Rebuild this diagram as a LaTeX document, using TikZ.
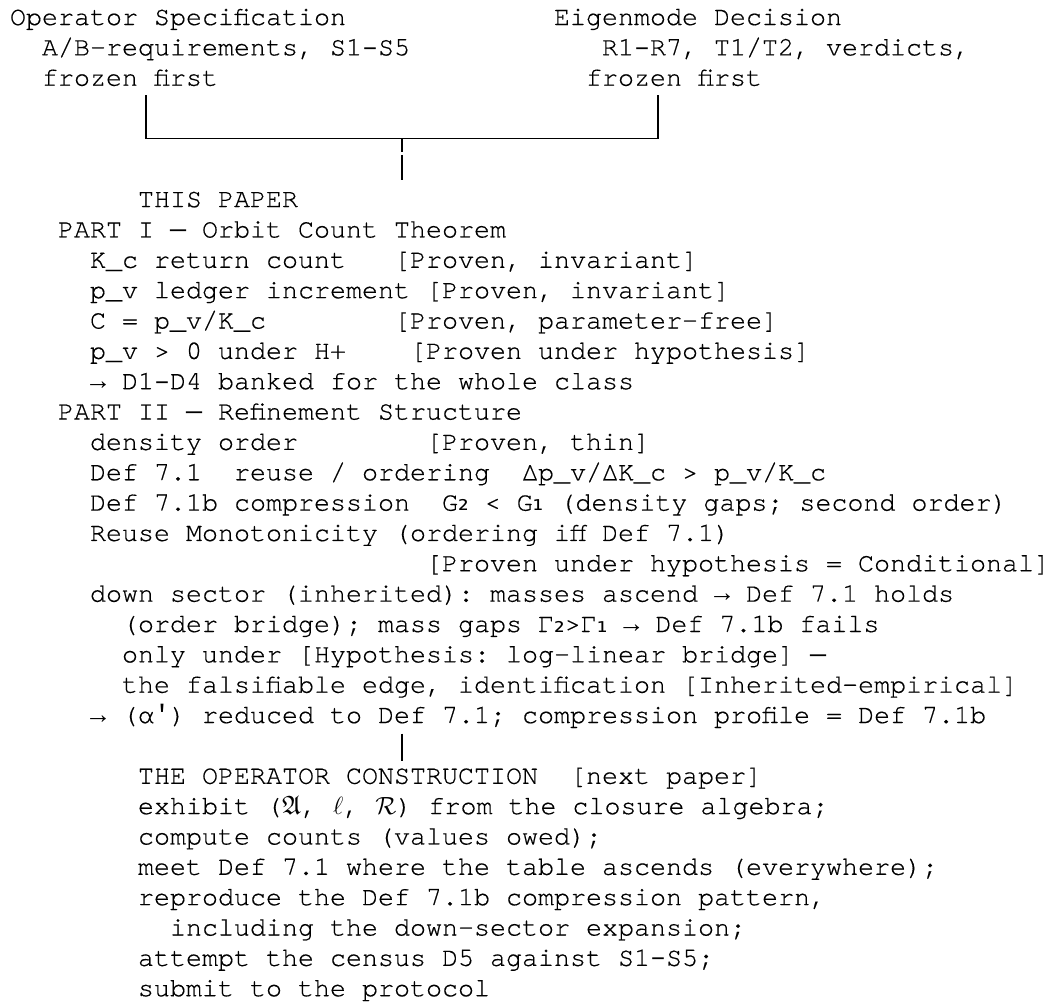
\documentclass[tikz,border=0pt]{standalone}
\usepackage{fontspec}
\usepackage{amssymb}
\newfontfamily\mono[FakeBold=0.4]{texgyrecursor-regular.otf}
\newfontfamily\lmono{Liberation Mono}
\newfontfamily\subf{DejaVu Sans}
\newcommand{\ar}{{\lmono →}}
\newcommand{\prm}{{\lmono ′}}
\newcommand{\mdash}{{\lmono —}}
\newcommand{\ndash}{{\lmono –}}
\begin{document}
\begin{tikzpicture}[x=1pt,y=-1pt,
  txt/.style={anchor=base west,inner sep=0pt,outer sep=0pt,
    font=\mono\fontsize{26.67}{30}\selectfont\frenchspacing},
  conn/.style={line width=1.6pt}]
\fill[white] (0,0) rectangle (1048,1004);
\useasboundingbox (0,0) rectangle (1048,1004);
\begin{scope}[shift={(10pt,-25pt)},x=16.0pt,y=-30.35pt]
% top blocks
\node[txt] (spec)  at (0,0)  {Operator Specification};
\node[txt] (spec2) at (2,1)  {A/B-requirements, S1\ndash{}S5};
\node[txt] (spec3) at (2,2)  {frozen first};
\node[txt] (eig)   at (34,0) {Eigenmode Decision};
\node[txt] (eig2)  at (37,1) {R1\ndash{}R7, T1/T2, verdicts,};
\node[txt] (eig3)  at (36,2) {frozen first};
% this paper
\node[txt] (tp)  at (8,6)  {THIS PAPER};
\node[txt] (p1)  at (3,7)  {PART I \mdash{} Orbit Count Theorem};
\node[txt] (p1a) at (5,8)  {K\_c return count\ \ \ [Proven, invariant]};
\node[txt] (p1b) at (5,9)  {p\_v ledger increment [Proven, invariant]};
\node[txt] (p1c) at (5,10) {C = p\_v/K\_c\ \ \ \ \ \ \ \ [Proven, parameter-free]};
\node[txt] (p1d) at (5,11) {p\_v > 0 under H+\ \ \ \ [Proven under hypothesis]};
\node[txt] (p1e) at (5,12) {\ar{} D1\ndash{}D4 banked for the whole class};
\node[txt] (p2)  at (3,13) {PART II \mdash{} Refinement Structure};
\node[txt] (p2a) at (5,14) {density order\ \ \ \ \ \ \ \ [Proven, thin]};
\node[txt] (p2b) at (5,15) {Def 7.1\ \ reuse / ordering\ \ Δp\_v/ΔK\_c > p\_v/K\_c};
\node[txt] (p2c) at (5,16) {Def 7.1b compression\ \ G{\subf ₂} < G{\subf ₁} (density gaps; second order)};
\node[txt] (p2d) at (5,17) {Reuse Monotonicity (ordering iff Def 7.1)};
\node[txt] (p2e) at (26,18) {[Proven under hypothesis = Conditional\rlap{]}};
\node[txt] (p2f) at (5,19) {down sector (inherited): masses ascend \ar{} Def 7.1 holds};
\node[txt] (p2g) at (7,20) {(order bridge); mass gaps Γ{\subf ₂}>Γ{\subf ₁} \ar{} Def 7.1b fails};
\node[txt] (p2h) at (7,21) {only under [Hypothesis: log-linear bridge] \mdash};
\node[txt] (p2i) at (7,22) {the falsifiable edge, identification [Inherited-empirical\rlap{]}};
\node[txt] (p2j) at (5,23) {\ar{} (α\prm) reduced to Def 7.1; compression profile = Def 7.1b};
% operator construction
\node[txt] (oc)  at (8,25) {THE OPERATOR CONSTRUCTION\ \ [next paper]};
\node[txt] (oc1) at (8,26) {exhibit ($\mathfrak{A}$, $\ell$, $\mathcal{R}$) from the closure algebra;};
\node[txt] (oc2) at (8,27) {compute counts (values owed);};
\node[txt] (oc3) at (8,28) {meet Def 7.1 where the table ascends (everywhere);};
\node[txt] (oc4) at (8,29) {reproduce the Def 7.1b compression pattern,};
\node[txt] (oc5) at (10,30) {including the down-sector expansion;};
\node[txt] (oc6) at (8,31) {attempt the census D5 against S1\ndash{}S5;};
\node[txt] (oc7) at (8,32) {submit to the protocol};
% connectors
\coordinate (jl)  at (8.5,2.31);
\coordinate (jr)  at (40.5,2.31);
\coordinate (jm)  at (24.5,3.733);
\coordinate (jm1) at (24.5,4.19);
\coordinate (jm2) at (24.5,4.28);
\coordinate (jb)  at (24.5,5.107);
\draw[conn] (jl) |- (jm) -| (jr);
\draw[conn] (jm) -- (jm1);
\draw[conn] (jm2) -- (jb);
\coordinate (kt) at (24.5,23.35);
\coordinate (kb) at (24.5,24.25);
\draw[conn] (kt) -- (kb);
\end{scope}
\end{tikzpicture}
\end{document}
